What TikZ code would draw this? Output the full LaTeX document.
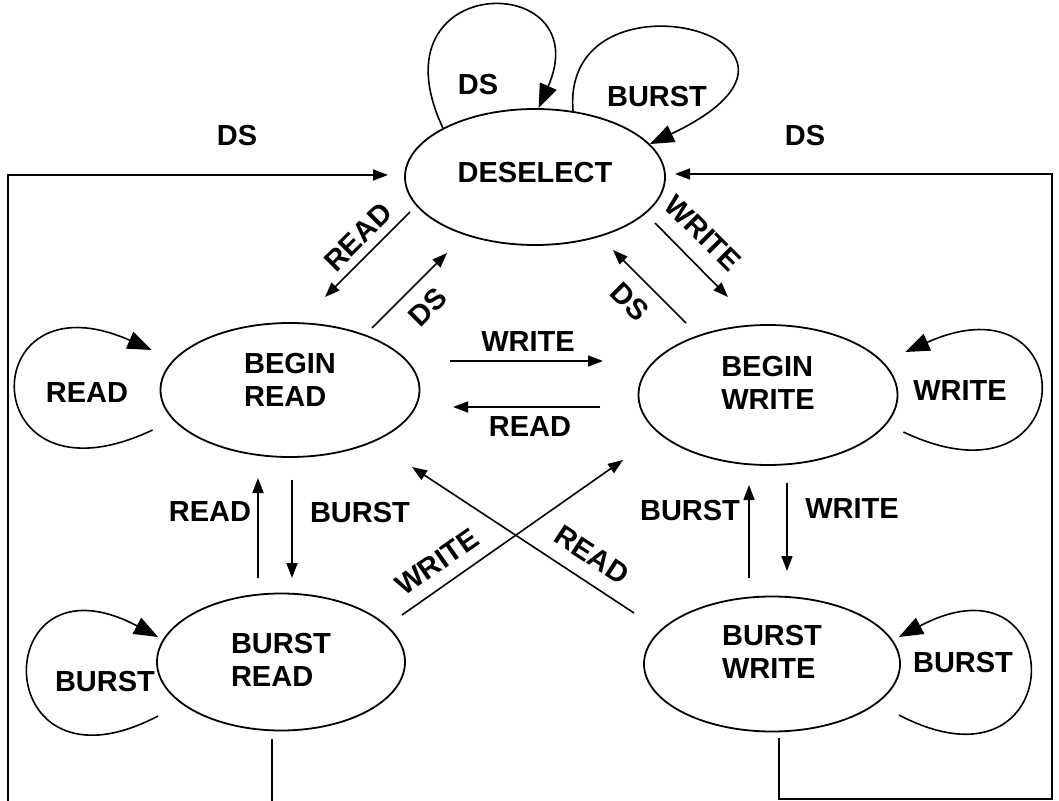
\documentclass[tikz,border=0pt]{standalone}
\usepackage{fontspec}
\setmainfont{Liberation Sans}
\usetikzlibrary{shapes.geometric,arrows.meta}
\newcommand{\fsmfont}{\fontsize{14.5}{16.5}\selectfont\bfseries}
\tikzset{%
  state/.style={%
    ellipse,%
    draw,%
    line width=0.9pt,%
    inner sep=0pt,%
    align=left,%
    font=\fsmfont},%
  lbl/.style={%
    font=\fsmfont,%
    inner sep=1pt},%
  wire/.style={line width=0.8pt},%
  tr/.style={%
    line width=0.8pt,%
    -{Triangle[length=7.5pt,width=5.5pt]}},%
  selfloop/.style={%
    line width=0.8pt,%
    -{Triangle[length=12pt,width=9pt]}}
}
\begin{document}
\begin{tikzpicture}[x=0.5pt,y=-0.5pt]
  \useasboundingbox (0,0) rectangle (1059,801);
  % states
  \node [state,minimum width=130pt,minimum height=68pt,text depth=5pt] (dsel) at (535,177) {DESELECT};
  \node [state,minimum width=129.5pt,minimum height=67pt,text depth=10pt] (bgnrd) at (290,390) {BEGIN\\READ};
  \node [state,minimum width=129.5pt,minimum height=70pt,text depth=12pt] (bgnwr) at (768,395) {BEGIN\\WRITE};
  \node [state,minimum width=124pt,minimum height=68.5pt,text depth=2pt] (bstrd) at (281,662) {BURST\\READ};
  \node [state,minimum width=128pt,minimum height=67.5pt,text depth=12pt] (bstwr) at (772,664) {BURST\\WRITE};
  % self loops
  \draw [selfloop] (dsel.152) .. controls +(-74,-158) and +(61,-139) .. (dsel.87);
  \draw [selfloop] (dsel.60) .. controls +(-13,-152) and +(221,-105) .. (dsel.16);
  \draw [selfloop] ([shift={(-7,40)}]bgnrd.west) .. controls +(-180,85) and +(-180,-80) .. ([shift={(-8,-40)}]bgnrd.west);
  \draw [selfloop] ([shift={(5,37)}]bgnwr.east) .. controls +(180,85) and +(180,-80) .. ([shift={(7,-43)}]bgnwr.east);
  \draw [selfloop] ([shift={(2,54)}]bstrd.west) .. controls +(-172,90) and +(-172,-91) .. ([shift={(2,-25)}]bstrd.west);
  \draw [selfloop] ([shift={(-2,51)}]bstwr.east) .. controls +(173,90) and +(173,-91) .. ([shift={(-2,-27)}]bstwr.east);
  % transitions
  \draw [tr] ([shift={(-125,35)}]dsel.center) -- ([shift={(35,-93)}]bgnrd.center);
  \draw [tr] ([shift={(82,-62)}]bgnrd.center) -- ([shift={(-88,76)}]dsel.center);
  \draw [tr] ([shift={(120,46)}]dsel.center) -- ([shift={(-40,-98)}]bgnwr.center);
  \draw [tr] ([shift={(-82,-72)}]bgnwr.center) -- ([shift={(78,73)}]dsel.center);
  \draw [tr] ([shift={(160,-29)}]bgnrd.center) -- ([shift={(-165,-34)}]bgnwr.center);
  \draw [tr] ([shift={(-168,12)}]bgnwr.center) -- ([shift={(163,17)}]bgnrd.center);
  \draw [tr] ([shift={(-23,-84)}]bstrd.center) -- ([shift={(-32,88)}]bgnrd.center);
  \draw [tr] ([shift={(2,90)}]bgnrd.center) -- ([shift={(11,-84)}]bstrd.center);
  \draw [tr] ([shift={(121,-47)}]bstrd.center) -- ([shift={(-145,65)}]bgnwr.center);
  \draw [tr] ([shift={(-138,-51)}]bstwr.center) -- ([shift={(122,77)}]bgnrd.center);
  \draw [tr] ([shift={(-23,-86)}]bstwr.center) -- ([shift={(-19,90)}]bgnwr.center);
  \draw [tr] ([shift={(19,88)}]bgnwr.center) -- ([shift={(15,-93)}]bstwr.center);
  % DS back to DESELECT
  \draw [tr] ([shift={(-9,77)}]bstrd.center) -- ++(0,67) -| (8,175) -- ([shift={(-147,-2)}]dsel.center);
  \draw [tr] ([shift={(7,74)}]bstwr.center) -- ++(0,61) -| (1052,174) -- ([shift={(140,-3)}]dsel.center);
  % labels
  \node [lbl] (lds1) at (237,136) {DS};
  \node [lbl] (lds2) at (805,136) {DS};
  \node [lbl] (ldsl) at (478,85) {DS};
  \node [lbl] (lbst0) at (657,97) {BURST};
  \node [lbl,rotate=45] (lrd1) at (358,237) {READ};
  \node [lbl,rotate=45] (lds3) at (428,307) {DS};
  \node [lbl,rotate=-45] (lwr1) at (703,233) {WRITE};
  \node [lbl,rotate=-45] (lds4) at (630,302) {DS};
  \node [lbl] (lwr2) at (528,342) {WRITE};
  \node [lbl] (lrd2) at (530,427) {READ};
  \node [lbl] (lrd0) at (87,393) {READ};
  \node [lbl] (lwr0) at (960,391) {WRITE};
  \node [lbl] (lrd3) at (210,512) {READ};
  \node [lbl] (lbst1) at (360,513) {BURST};
  \node [lbl] (lbst2) at (690,511) {BURST};
  \node [lbl] (lwr3) at (852,509) {WRITE};
  \node [lbl,rotate=35] (lwr4) at (437,562) {WRITE};
  \node [lbl,rotate=-33] (lrd4) at (592,555) {READ};
  \node [lbl] (lbst3) at (105,682) {BURST};
  \node [lbl] (lbst4) at (963,663) {BURST};
\end{tikzpicture}
\end{document}
